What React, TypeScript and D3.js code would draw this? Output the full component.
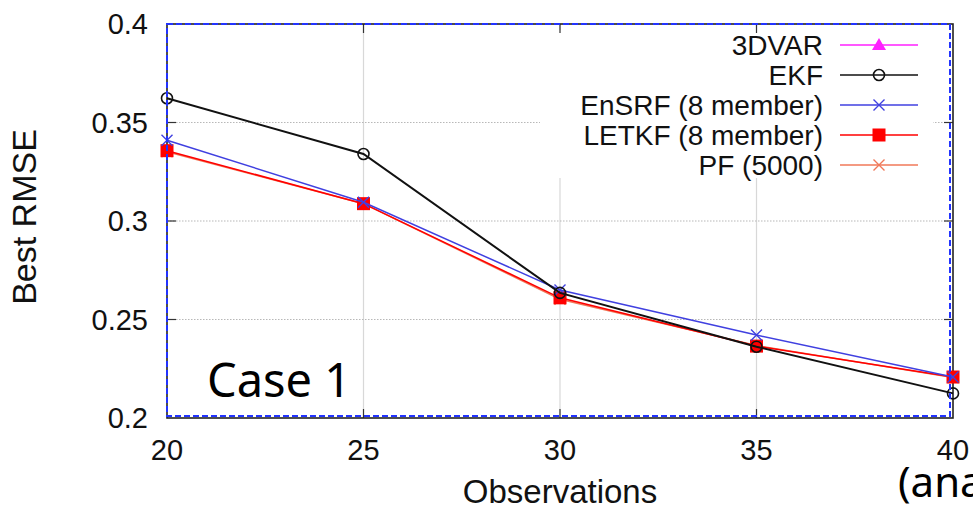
import React from "react";
import * as d3 from "d3";

const observations = [20, 25, 30, 35, 40];
const xTicks = [20, 25, 30, 35, 40];
const yTicks = [0.2, 0.25, 0.3, 0.35, 0.4];
const yTickLabels = ["0.2", "0.25", "0.3", "0.35", "0.4"];

const ekf = [0.3623, 0.334, 0.2635, 0.2362, 0.2125];
const ensrf = [0.341, 0.3095, 0.265, 0.2421, 0.2208];
const letkf = [0.3357, 0.3088, 0.261, 0.2365, 0.2208];
const pf = [0.3352, 0.3088, 0.2603, 0.2368, 0.2205];
const threeDVar: number[] = [];

const seriesNames = ["3DVAR", "EKF", "EnSRF (8 member)", "LETKF (8 member)", "PF (5000)"];
const seriesColors = ["#ff20ff", "#111111", "#4040e0", "#ff0000", "#f07858"];
const seriesMarkers = ["triangle", "circle", "cross", "square", "cross"];

const W = 973;
const H = 510;

function Marker({ type, x, y, color }: { type: string; x: number; y: number; color: string }) {
  if (type === "circle")
    return <circle cx={x} cy={y} r={5.5} fill="none" stroke={color} strokeWidth={1.6} />;
  if (type === "square")
    return <rect x={x - 6.5} y={y - 6.5} width={13} height={13} fill={color} />;
  if (type === "triangle")
    return <path d={`M${x},${y - 7}L${x + 7},${y + 5}L${x - 7},${y + 5}Z`} fill={color} />;
  const s = 5.5;
  return (
    <path
      d={`M${x - s},${y - s}L${x + s},${y + s}M${x - s},${y + s}L${x + s},${y - s}`}
      stroke={color}
      strokeWidth={1.4}
    />
  );
}

export default function App() {
  const x = d3.scaleLinear().domain([20, 40]).range([167, 953]);
  const y = d3.scaleLinear().domain([0.2, 0.4]).range([418, 24]);
  const data = [threeDVar, ekf, ensrf, letkf, pf];
  const drawOrder = [0, 4, 3, 2, 1];
  const line = d3
    .line<number>()
    .x((_, i) => x(observations[i]))
    .y((v) => y(v));

  const font = "'Liberation Sans', Arial, Helvetica, sans-serif";
  const legendBox = { x0: 540, x1: 933, y0: 30, y1: 178 };

  return (
    <svg
      width={W}
      height={H}
      style={{ position: "absolute", left: 0, top: 0, background: "#fff" }}
      fontFamily={font}
    >
      <rect x={0} y={0} width={W} height={H} fill="#fff" />
      <defs>
        <clipPath id="plotClip">
          <rect x={x(20) - 8} y={y(0.4)} width={x(40) - x(20) + 16} height={y(0.2) - y(0.4)} />
        </clipPath>
      </defs>

      {/* grid */}
      {xTicks.slice(1, -1).map((t) => (
        <line key={"gx" + t} x1={x(t)} x2={x(t)} y1={y(0.2)} y2={y(0.4)} stroke="#d8d8d8" strokeWidth={1.2} />
      ))}
      {yTicks.slice(1, -1).map((t) => (
        <line
          key={"gy" + t}
          x1={x(20)}
          x2={x(40)}
          y1={y(t)}
          y2={y(t)}
          stroke="#b8b8b8"
          strokeWidth={1.2}
          strokeDasharray="1.5,1.5"
        />
      ))}

      {/* legend background */}
      <rect
        x={legendBox.x0}
        y={legendBox.y0}
        width={legendBox.x1 - legendBox.x0}
        height={legendBox.y1 - legendBox.y0}
        fill="#fff"
      />

      {/* ticks */}
      {yTicks.slice(1, -1).map((t) => (
        <g key={"ty" + t}>
          <line x1={x(20)} x2={x(20) + 9} y1={y(t)} y2={y(t)} stroke="#333" strokeWidth={1.2} />
          <line x1={x(40)} x2={x(40) - 9} y1={y(t)} y2={y(t)} stroke="#333" strokeWidth={1.2} />
        </g>
      ))}
      {xTicks.slice(1, -1).map((t) => (
        <g key={"tx" + t}>
          <line x1={x(t)} x2={x(t)} y1={y(0.2)} y2={y(0.2) - 9} stroke="#333" strokeWidth={1.2} />
          <line x1={x(t)} x2={x(t)} y1={y(0.4)} y2={y(0.4) + 9} stroke="#333" strokeWidth={1.2} />
        </g>
      ))}

      {/* frame */}
      <rect
        x={x(20)}
        y={y(0.4)}
        width={x(40) - x(20)}
        height={y(0.2) - y(0.4)}
        fill="none"
        stroke="#222"
        strokeWidth={1.6}
      />

      {/* series */}
      <g clipPath="url(#plotClip)">
        {drawOrder.map((si) =>
          data[si].length ? (
            <g key={"s" + si}>
              <path d={line(data[si]) || ""} fill="none" stroke={seriesColors[si]} strokeWidth={si === 1 ? 2 : 1.5} />
              {data[si].map((v, i) => (
                <Marker key={i} type={seriesMarkers[si]} x={x(observations[i])} y={y(v)} color={seriesColors[si]} />
              ))}
            </g>
          ) : null
        )}
      </g>

      {/* blue dashed box */}
      <rect
        x={x(20)}
        y={y(0.4)}
        width={x(40) - x(20) - 3}
        height={y(0.2) - y(0.4) - 2}
        fill="none"
        stroke="#2233ff"
        strokeWidth={2}
        strokeDasharray="6,3"
      />

      {/* legend */}
      {seriesNames.map((name, i) => {
        const ly = 45 + i * 30;
        return (
          <g key={"l" + i}>
            <text x={823} y={ly} textAnchor="end" dominantBaseline="central" fontSize={28} fill="#111">
              {name}
            </text>
            <line x1={840} x2={918} y1={ly} y2={ly} stroke={seriesColors[i]} strokeWidth={1.5} />
            <Marker type={seriesMarkers[i]} x={879} y={ly} color={seriesColors[i]} />
          </g>
        );
      })}

      {/* y tick labels */}
      {yTicks.map((t, i) => (
        <text key={"yl" + t} x={148} y={y(t)} textAnchor="end" dominantBaseline="central" fontSize={29} fill="#111">
          {yTickLabels[i]}
        </text>
      ))}
      {/* x tick labels */}
      {xTicks.map((t) => (
        <text key={"xl" + t} x={x(t)} y={460} textAnchor="middle" fontSize={29} fill="#111">
          {t}
        </text>
      ))}

      {/* axis titles */}
      <text x={560} y={503} textAnchor="middle" fontSize={33} fill="#111">
        Observations
      </text>
      <text
        transform={`translate(36,217) rotate(-90)`}
        textAnchor="middle"
        fontSize={34}
        fill="#111"
      >
        Best RMSE
      </text>

      {/* annotations */}
      <text x={207} y={397} fontFamily="'Noto Sans', 'Open Sans', sans-serif" fontSize={47} fill="#000">
        Case 1
      </text>
      <text x={898} y={497} fontFamily="'Noto Sans', 'Open Sans', sans-serif" fontSize={42} fill="#000">
        (analysis)
      </text>
    </svg>
  );
}
